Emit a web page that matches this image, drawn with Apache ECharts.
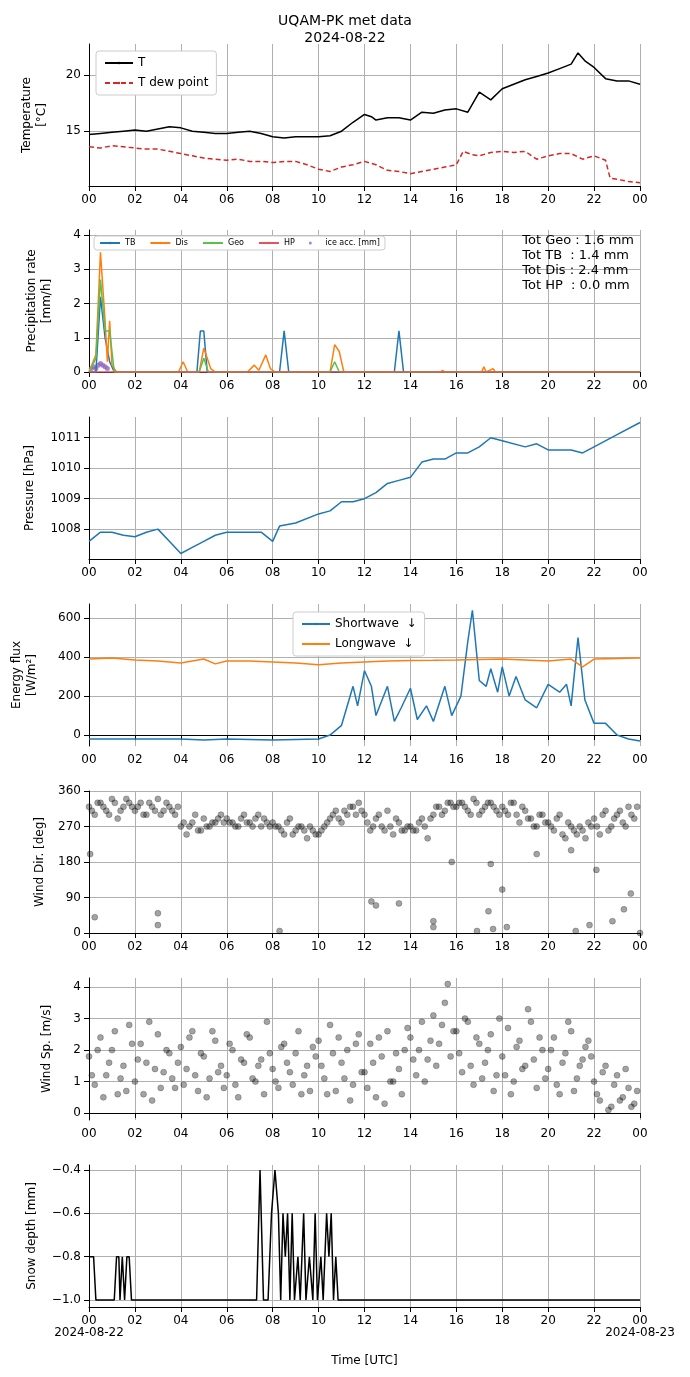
<!DOCTYPE html>
<html><head><meta charset="utf-8">
<script src="https://cdn.jsdelivr.net/npm/echarts@6/dist/echarts.min.js"></script>
<style>html,body{margin:0;padding:0;background:#fff}#c{width:690px;height:1377px}</style>
</head><body><div id="c"></div>
<script>
// temperature [hour, degC]
var tAir = [[0,14.7],[0.5,14.8],[1,14.9],[1.5,15.0],[2,15.1],[2.5,15.0],[3,15.2],[3.5,15.4],[4,15.3],[4.5,15.0],[5,14.9],[5.5,14.8],[6,14.8],[6.5,14.9],[7,15.0],[7.5,14.8],[8,14.5],[8.5,14.4],[9,14.5],[9.5,14.5],[10,14.5],[10.5,14.6],[11,15.0],[11.5,15.8],[12,16.5],[12.3,16.3],[12.5,16.0],[13,16.2],[13.5,16.2],[14,16.0],[14.5,16.7],[15,16.6],[15.5,16.9],[16,17.0],[16.5,16.7],[17,18.5],[17.5,17.8],[18,18.8],[18.5,19.2],[19,19.6],[19.5,19.9],[20,20.2],[20.5,20.6],[21,21.0],[21.3,22.0],[21.6,21.3],[22,20.7],[22.5,19.7],[23,19.5],[23.5,19.5],[24,19.2]];
var tDew = [[0,13.6],[0.5,13.5],[1,13.7],[1.5,13.6],[2,13.5],[2.5,13.4],[3,13.4],[3.5,13.2],[4,13.0],[4.5,12.8],[5,12.6],[5.5,12.5],[6,12.4],[6.5,12.5],[7,12.3],[7.5,12.3],[8,12.2],[8.5,12.3],[9,12.3],[9.5,12.0],[10,11.6],[10.5,11.4],[11,11.8],[11.5,12.0],[12,12.3],[12.5,12.0],[13,11.5],[13.5,11.4],[14,11.2],[14.5,11.4],[15,11.6],[15.5,11.8],[16,12.0],[16.3,13.2],[16.7,12.9],[17,12.8],[17.5,13.1],[18,13.2],[18.5,13.1],[19,13.2],[19.5,12.5],[20,12.8],[20.5,13.0],[21,13.0],[21.5,12.5],[22,12.8],[22.5,12.4],[22.7,10.8],[23,10.7],[23.5,10.5],[24,10.4]];
// precipitation rate [hour, mm/h]
var pTB = [[0,0],[0.3,0],[0.5,2.2],[0.7,1.0],[0.9,0.3],[1.1,0],[4.7,0],[4.85,1.2],[5.0,1.2],[5.15,0],[8.3,0],[8.5,1.2],[8.7,0],[13.3,0],[13.5,1.2],[13.7,0],[24,0]];
var pDis = [[0,0],[0.3,0.5],[0.5,3.5],[0.7,1.5],[0.8,0.3],[0.9,1.5],[1.0,0.2],[1.2,0],[3.9,0],[4.1,0.3],[4.3,0],[4.8,0],[5.0,0.7],[5.3,0.1],[5.5,0],[6.9,0],[7.2,0.2],[7.4,0.05],[7.7,0.5],[7.9,0.1],[8.1,0],[10.5,0],[10.7,0.8],[10.9,0.6],[11.1,0],[15.3,0],[15.4,0.05],[15.5,0],[17.1,0],[17.2,0.15],[17.3,0],[17.6,0.1],[17.7,0],[24,0]];
var pGeo = [[0,0],[0.3,0.4],[0.5,2.7],[0.7,1.2],[0.9,1.2],[1.1,0],[4.8,0],[5.0,0.4],[5.2,0],[10.5,0],[10.7,0.3],[10.9,0],[24,0]];
var pHP = [[0,0],[24,0]];
var iceAcc = [[0.1,0.1],[0.2,0.15],[0.3,0.1],[0.4,0.2],[0.5,0.25],[0.6,0.2],[0.7,0.15],[0.8,0.1]];
// pressure [hour, hPa]
var pres = [[0,1007.6],[0.5,1007.9],[1,1007.9],[1.5,1007.8],[2,1007.75],[2.5,1007.9],[3,1008.0],[3.5,1007.6],[4,1007.2],[4.5,1007.4],[5,1007.6],[5.5,1007.8],[6,1007.9],[7,1007.9],[7.5,1007.9],[8,1007.6],[8.3,1008.1],[9,1008.2],[10,1008.5],[10.5,1008.6],[11,1008.9],[11.5,1008.9],[12,1009.0],[12.5,1009.2],[13,1009.5],[13.5,1009.6],[14,1009.7],[14.5,1010.2],[15,1010.3],[15.5,1010.3],[16,1010.5],[16.5,1010.5],[17,1010.7],[17.5,1011.0],[18,1010.9],[19,1010.7],[19.5,1010.8],[20,1010.6],[21,1010.6],[21.5,1010.5],[22,1010.7],[23,1011.1],[24,1011.5]];
// radiation [hour, W/m2]
var swDown = [[0,-20],[4,-20],[5,-25],[6,-20],[8,-25],[10,-20],[10.5,0],[11,50],[11.5,250],[11.7,150],[12,330],[12.3,250],[12.5,100],[13,250],[13.3,70],[13.6,140],[14,240],[14.3,80],[14.7,150],[15,70],[15.5,250],[15.8,100],[16.2,200],[16.5,480],[16.7,640],[17,280],[17.3,250],[17.5,340],[17.8,220],[18,350],[18.3,200],[18.6,300],[19,180],[19.5,140],[20,260],[20.5,220],[20.8,260],[21,150],[21.3,500],[21.6,180],[22,60],[22.5,60],[23,0],[23.5,-20],[24,-30]];
var lwDown = [[0,390],[1,395],[2,385],[3,380],[4,370],[4.5,380],[5,390],[5.5,365],[6,380],[7,380],[8,375],[9,370],[10,360],[11,370],[12,375],[13,380],[14,382],[15,383],[16,385],[17,388],[18,390],[19,385],[20,380],[21,390],[21.5,350],[22,390],[23,392],[24,395]];
// wind, one value every 15 min
var wDir = [320,300,330,310,340,290,320,330, 310,330,300,320,340,310,320,300, 270,250,280,260,290,270,280,300, 290,280,270,300,280,290,270,280, 280,270,250,290,260,270,240,260, 250,270,290,310,280,300,320,330, 300,260,290,270,310,250,280,260, 270,260,290,240,300,320,310,330, 320,330,310,340,300,320,330,310, 320,300,330,280,310,290,270,300, 280,260,300,240,270,250,260,280, 290,250,310,270,300,280,320,290];
var wDir2 = [310,330,320,300,330,310,340,320, 320,300,330,310,300,330,310,320, 280,270,300,260,270,280,290,280, 280,270,290,280,270,300,290,270, 270,260,280,250,270,260,270,250, 260,280,300,290,310,320,300,310, 280,270,300,260,270,290,260,270, 260,280,270,290,320,300,330,320, 330,320,300,330,310,330,320,300, 310,330,300,320,290,270,300,280, 270,290,250,280,260,270,240,270, 270,300,260,290,310,270,300,320];
var wDirOut = [[0.05,200],[0.25,40],[3,50],[3,20],[8.3,5],[12.3,80],[12.5,70],[13.5,75],[15,30],[15,15],[16.9,5],[17.4,55],[17.6,10],[18,110],[18.2,15],[21.2,5],[21.8,20],[22.8,30],[23.3,60],[23.6,100],[24,0],[22.1,160],[15.8,180],[17.5,175],[19.5,200],[21,210]];
var wSpd = [1.8,0.9,2.4,1.2,2.0,0.6,1.5,2.8, 1.0,2.2,1.6,0.4,2.5,1.3,1.9,0.8, 2.1,1.4,2.6,0.7,1.8,1.1,2.3,1.5, 1.2,2.0,0.5,1.6,2.4,1.0,1.7,2.9, 1.4,0.8,2.2,1.3,1.9,0.6,1.5,2.1, 2.3,1.1,2.8,0.7,1.6,2.0,0.9,2.5, 1.3,2.2,0.5,1.8,2.6,1.0,1.4,2.0, 2.4,1.2,2.9,1.7,3.1,2.2,3.5,1.8, 2.6,1.3,2.9,0.9,2.2,1.6,2.5,1.2, 1.8,2.7,1.0,2.3,1.5,2.9,0.8,2.0, 1.4,2.4,0.6,1.9,2.6,1.1,1.7,2.3, 1.0,0.4,1.5,0.2,1.2,0.5,0.8,0.3];
var wSpd2 = [1.2,2.0,0.5,1.6,2.6,1.1,0.7,2.2, 1.7,0.6,2.9,1.4,0.8,2.0,1.1,1.6, 0.9,2.4,1.2,1.9,0.5,2.6,1.3,0.8, 2.2,0.9,1.7,2.5,1.1,1.5,0.6,1.9, 1.0,2.1,1.6,0.9,2.6,1.2,0.7,1.8, 1.5,0.6,1.9,2.4,1.1,0.4,2.2,1.3, 0.8,1.6,2.4,0.3,1.0,1.9,0.6,2.7, 1.7,2.0,1.0,2.3,1.5,2.8,4.1,2.6, 1.9,3.0,1.5,2.4,1.1,2.0,0.7,3.0, 1.2,0.6,2.1,1.4,3.3,1.7,2.4,1.1, 2.0,0.9,1.6,2.9,0.7,1.5,2.1,1.8, 0.6,1.3,0.1,0.9,0.4,1.4,0.2,0.7];
// snow depth [hour, mm]
var snow = [[0,-0.8],[0.2,-0.8],[0.3,-1],[1.1,-1],[1.2,-0.8],[1.3,-0.8],[1.35,-1],[1.45,-0.8],[1.55,-1],[1.65,-0.8],[1.75,-0.8],[1.85,-1],[7.3,-1],[7.45,-0.4],[7.6,-1],[7.8,-1],[7.95,-0.6],[8.1,-0.4],[8.25,-0.6],[8.35,-1],[8.45,-0.6],[8.55,-0.8],[8.65,-0.6],[8.75,-1],[8.85,-0.6],[8.95,-1],[9.1,-0.8],[9.2,-1],[9.35,-0.6],[9.45,-1],[9.6,-0.8],[9.75,-1],[9.85,-0.6],[9.95,-1],[10.1,-0.8],[10.2,-1],[10.35,-0.6],[10.45,-0.8],[10.55,-0.6],[10.65,-1],[10.75,-0.8],[10.85,-1],[24,-1]];
var totText = ['Tot Geo : 1.6 mm','Tot TB  : 1.4 mm','Tot Dis : 2.4 mm','Tot HP  : 0.0 mm'];

function withTime(arr, off){ return arr.map(function(v,i){ return [i*0.25+off, v]; }); }

var tops = [44,230,417,604,791,978,1165];
var font = 'DejaVu Sans';
var grids = tops.map(function(t){ return {left:89, right:50, top:t, height:142}; });
var xAxes = tops.map(function(t,i){
  return {type:'value', gridIndex:i, min:0, max:24, interval:2,
    axisLine:{lineStyle:{color:'#000'}}, axisTick:{lineStyle:{color:'#000'}},
    splitLine:{show:true, lineStyle:{color:'#b0b0b0'}},
    axisLabel:{color:'#000', fontFamily:font, fontSize:12, formatter:function(v){
      var s = (v%24<10?'0':'')+(v%24);
      if(i==6 && v==0) return s+'\n2024-08-22';
      if(i==6 && v==24) return s+'\n2024-08-23';
      return s;
    }},
    name: i==6 ? 'Time [UTC]' : '', nameLocation:'middle', nameGap:48,
    nameTextStyle:{color:'#000', fontFamily:font, fontSize:12}};
});
function yAx(i, name, min, max, ticks, gap){
  return {type:'value', gridIndex:i, min:min, max:max, name:name, nameLocation:'middle', nameGap:gap,
    nameTextStyle:{color:'#000', fontFamily:font, fontSize:12, lineHeight:15},
    axisLine:{show:true, lineStyle:{color:'#000'}},
    axisTick:{show:true, customValues:ticks, lineStyle:{color:'#000'}},
    axisLabel:{color:'#000', fontFamily:font, fontSize:12, customValues:ticks, formatter:function(v){ return String(v); }},
    splitLine:{show:true, lineStyle:{color:'#b0b0b0'}}};
}
var yAxes = [
  yAx(0,'Temperature\n[°C]',10.1,22.8,[15,20],40),
  yAx(1,'Precipitation rate\n[mm/h]',0,4.15,[0,1,2,3,4],35),
  yAx(2,'Pressure [hPa]',1007.02,1011.68,[1008,1009,1010,1011],52),
  yAx(3,'Energy flux\n[W/m²]',-56,672,[0,200,400,600],50),
  yAx(4,'Wind Dir. [deg]',0,360,[0,90,180,270,360],40),
  yAx(5,'Wind Sp. [m/s]',-0.22,4.29,[0,1,2,3,4],35),
  yAx(6,'Snow depth [mm]',-1.032,-0.377,[-1,-0.8,-0.6,-0.4],50)
];
yAxes[6].axisLabel.formatter = function(v){ return v.toFixed(1).replace('-','−'); };

function line(name, data, idx, color, w, type){
  return {name:name, type:'line', data:data, xAxisIndex:idx, yAxisIndex:idx, showSymbol:false, symbol:'none',
    lineStyle:{color:color, width:w||1.5, type:type||'solid'}, itemStyle:{color:color}, animation:false};
}
function scat(name, data, idx, color, size){
  return {name:name, type:'scatter', data:data, xAxisIndex:idx, yAxisIndex:idx, symbolSize:size||5,
    itemStyle:{color:color, borderColor:'rgba(0,0,0,0.6)', borderWidth:0.5}, animation:false};
}
var dots = 'rgba(0,0,0,0.45)';
var series = [
  line('T', tAir, 0, '#000', 1.5),
  line('T dew point', tDew, 0, '#d62728', 1.5, [5,3]),
  line('TB', pTB, 1, '#1f77b4'),
  line('Dis', pDis, 1, '#ff7f0e'),
  line('Geo', pGeo, 1, '#5cbf4a'),
  line('HP', pHP, 1, '#e15759'),
  scat('ice acc. [mm]', iceAcc, 1, '#9467bd', 5),
  line('p', pres, 2, '#1f77b4'),
  line('Shortwave  ↓', swDown, 3, '#1f77b4'),
  line('Longwave  ↓', lwDown, 3, '#ff7f0e'),
  scat('wd1', withTime(wDir,0), 4, dots, 6),
  scat('wd2', withTime(wDir2,0.125), 4, dots, 6),
  scat('wd3', wDirOut, 4, dots, 6),
  scat('ws1', withTime(wSpd,0), 5, dots, 6),
  scat('ws2', withTime(wSpd2,0.125), 5, dots, 6),
  line('snow', snow, 6, '#000', 1.5)
];
series[6].itemStyle.borderWidth = 0;
var legBox = {backgroundColor:'#fff', borderColor:'#ccc', borderWidth:1, borderRadius:3, orient:'vertical',
  textStyle:{color:'#000', fontFamily:font, fontSize:12}, itemWidth:28, itemHeight:3, itemGap:8};
var chart = echarts.init(document.getElementById('c'), null, {renderer:'canvas'});
chart.setOption({
  animation:false,
  title:[{text:'UQAM-PK met data\n2024-08-22', left:'center', top:8,
    textStyle:{color:'#000', fontFamily:font, fontSize:14, fontWeight:'normal', lineHeight:17}},
    {text:totText.join('\n'), right:51, top:228,
    textStyle:{color:'#000', fontFamily:font, fontSize:13, fontWeight:'normal', lineHeight:15, align:'right'}}],
  grid:grids, xAxis:xAxes, yAxis:yAxes, series:series,
  legend:[
    Object.assign({}, legBox, {data:[{name:'T'},{name:'T dew point'}], left:96, top:51, padding:[6,8]}),
    Object.assign({}, legBox, {orient:'horizontal', data:['TB','Dis','Geo','HP','ice acc. [mm]'], left:94, top:236, padding:[3,5],
      itemWidth:20, itemGap:14, textStyle:{color:'#000', fontFamily:font, fontSize:8}}),
    Object.assign({}, legBox, {data:['Shortwave  ↓','Longwave  ↓'], left:293, top:612, padding:[6,8]})
  ]
});
</script></body></html>
